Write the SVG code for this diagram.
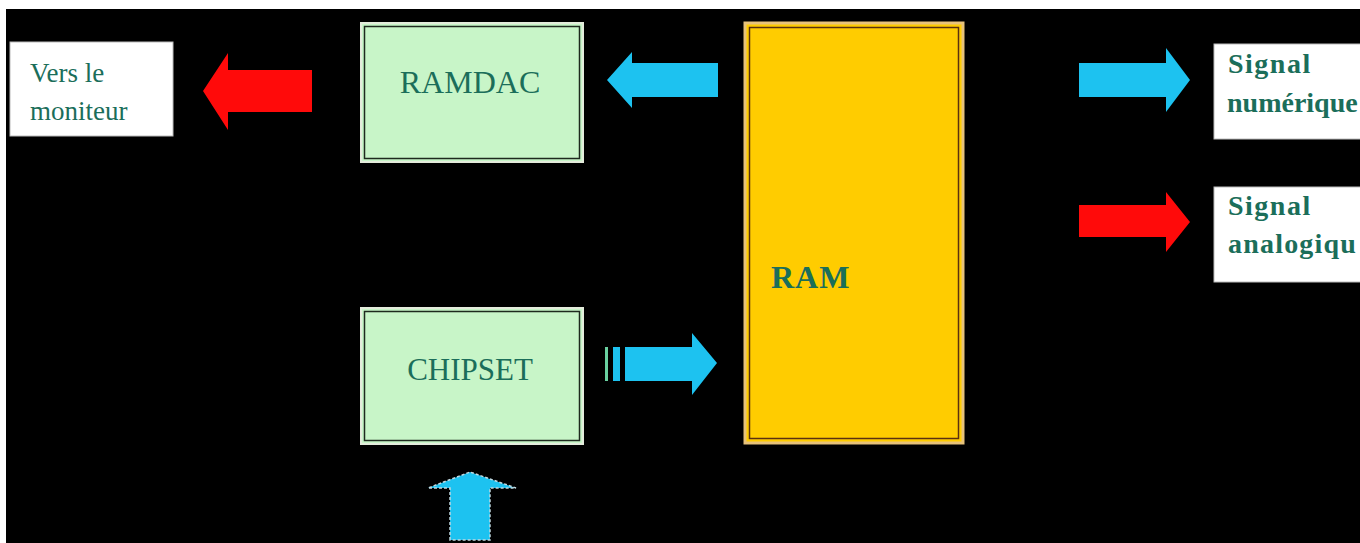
<svg xmlns="http://www.w3.org/2000/svg" width="1360" height="543" viewBox="0 0 1360 543">
<style>
.lbl{font-family:"Liberation Serif","Times New Roman",serif;fill:#1b6e5a}
.sig{font-size:28px;font-weight:bold}
.wbox{fill:#ffffff;stroke:#bbbbbb;stroke-width:1}
.gouter{fill:#c8f5c8;stroke:#e4ecdc;stroke-width:2}
.ginner{fill:none;stroke:#1e2a1e;stroke-width:1.5}
.blue{fill:#1dc2f0}
.red{fill:#ff0a0a}
</style>
<rect x="0" y="0" width="1360" height="543" fill="#ffffff"/>
<rect x="6" y="9" width="1354" height="534" fill="#000000"/>
<g id="moniteur">
<rect class="wbox" x="10" y="42" width="163" height="94"/>
<text class="lbl" x="30" y="82" font-size="27" fill="#2a5a50">Vers le</text>
<text class="lbl" x="30" y="120" font-size="27">moniteur</text>
</g>
<g id="ramdac">
<rect class="gouter" x="361" y="23" width="222" height="139"/>
<rect class="ginner" x="364.5" y="26.5" width="215" height="132"/>
<text class="lbl" x="470" y="93" font-size="32" text-anchor="middle">RAMDAC</text>
</g>
<g id="chipset">
<rect class="gouter" x="361" y="308" width="222" height="136"/>
<rect class="ginner" x="364.5" y="311.5" width="215" height="129"/>
<text class="lbl" x="470" y="380" font-size="31" text-anchor="middle">CHIPSET</text>
</g>
<g id="ram">
<rect x="745" y="23" width="218" height="420" fill="#ffcc00" stroke="#e8c27a" stroke-width="3"/>
<rect x="749.5" y="27.5" width="209" height="411" fill="none" stroke="#5a3010" stroke-width="1.5"/>
<text class="lbl" x="771" y="288" font-size="32" font-weight="bold" letter-spacing="1">RAM</text>
</g>
<g id="numerique">
<rect class="wbox" x="1214" y="44" width="150" height="95"/>
<text class="lbl sig" x="1228" y="73" letter-spacing="1.5">Signal</text>
<text class="lbl sig" x="1227" y="112">numérique</text>
</g>
<g id="analogique">
<rect class="wbox" x="1214" y="187" width="150" height="95"/>
<text class="lbl sig" x="1228" y="215" letter-spacing="1.5">Signal</text>
<text class="lbl sig" x="1228" y="253" letter-spacing="1.2">analogiqu</text>
</g>
<g id="connectors">
<polygon class="red" points="312,70 228,70 228,53 203,91 228,130 228,112 312,112"/>
<polygon class="blue" points="718,63 632,63 632,52 607,80 632,108 632,97 718,97"/>
<polygon class="blue" points="1079,63 1166,63 1166,48 1190,80 1166,112 1166,97 1079,97"/>
<polygon class="red" points="1079,205 1166,205 1166,192 1190,222 1166,252 1166,237 1079,237"/>
<rect x="605" y="347" width="3" height="34" fill="#6ad0a0"/>
<rect x="613" y="347" width="7" height="34" class="blue"/>
<polygon class="blue" points="625,347 692,347 692,333 717,363 692,395 692,381 625,381"/>
<polygon class="blue" points="450,540 450,488 428,488 470,472 516,488 490,488 490,540" stroke="#c0d8e0" stroke-width="1.5" stroke-dasharray="3,2"/>
</g>
</svg>
